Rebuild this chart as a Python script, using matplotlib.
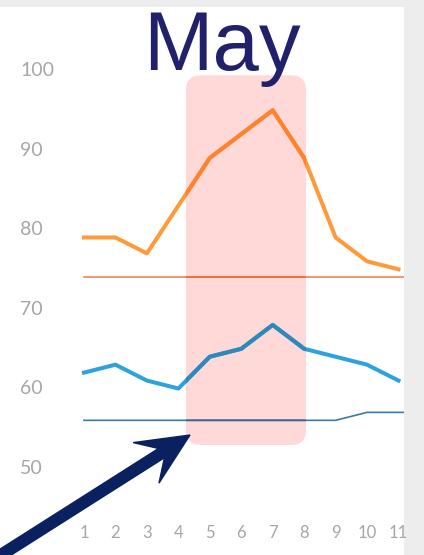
import matplotlib
matplotlib.use("Agg")
import matplotlib.pyplot as plt
from matplotlib.patches import FancyBboxPatch, FancyArrow
from matplotlib.colors import to_rgb

# ---- data ----
days = [1, 2, 3, 4, 5, 6, 7, 8, 9, 10, 11]
orange_vals = [79, 79, 77, 83, 89, 92, 95, 89, 79, 76, 75]
blue_vals = [62, 63, 61, 60, 64, 65, 68, 65, 64, 63, 61]
orange_base = [74, 74, 74, 74, 74, 74, 74, 74, 74, 74, 74]
blue_base = [56, 56, 56, 56, 56, 56, 56, 56, 56, 57, 57]
y_ticks = [100, 90, 80, 70, 60, 50]
x_tick_labels = ["1", "2", "3", "4", "5", "6", "7", "8", "9", "10", "11"]
highlight = (4.24, 8.06, 52.9, 99.4)   # x0, x1, y0, y1
title = "May"

W, H = 424, 555
fig = plt.figure(figsize=(W / 100, H / 100), dpi=100, facecolor="#ededed")

# main axes: white panel from px x 0..404, y 7..555
ax = fig.add_axes([0 / W, 0 / H, 404 / W, (H - 7) / H])
ax.set_facecolor("white")
XMIN, XMAX = -1.671, 11.175
ax.set_xlim(XMIN, XMAX)
ax.set_ylim(39.06, 107.99)
for s in ax.spines.values():
    s.set_visible(False)
ax.set_xticks([])
ax.set_yticks([])

pink = "#ffd8d8"
x0, x1, y0, y1 = highlight
rect = FancyBboxPatch((x0, y0), x1 - x0, y1 - y0,
                      boxstyle="round,pad=0,rounding_size=0.48",
                      mutation_aspect=3.96, facecolor=pink, edgecolor="none",
                      zorder=1)
ax.add_patch(rect)

def mult(c):
    a = to_rgb(c)
    b = to_rgb(pink)
    return tuple(p * q for p, q in zip(a, b))

series = [
    (days + [XMAX], orange_base + [orange_base[-1]], "#ee7a45", 1.1),
    (days + [XMAX], blue_base + [blue_base[-1]], "#3a7aa8", 1.2),
    (days, orange_vals, "#ff9a3a", 2.9),
    (days, blue_vals, "#2ea2dc", 2.9),
]
for xs, ys, col, lw in series:
    ax.plot(xs, ys, color=col, lw=lw, solid_joinstyle="round", zorder=2)
    ln, = ax.plot(xs, ys, color=mult(col), lw=lw, solid_joinstyle="round", zorder=3)
    ln.set_clip_path(rect)

tick_color = "#a6a6a6"
for v in y_ticks:
    ax.text(-1.03, v, str(v), ha="left", va="center", fontsize=14,
            family="Lato", color=tick_color)
for d, lab in zip(days, x_tick_labels):
    ax.text(d, 41.8, lab, ha="center", va="center", fontsize=12,
            family="Lato", color=tick_color)

# overlay in pixel coordinates for title and arrow
ov = fig.add_axes([0, 0, 1, 1], facecolor="none")
ov.set_xlim(0, W)
ov.set_ylim(H, 0)
ov.axis("off")

ov.text(222, 70, title, ha="center", va="baseline", fontsize=60,
        family="Liberation Sans", color="#21206a", zorder=10)

sx, sy = -10, 562
tx, ty = 190, 435
ov.add_patch(FancyArrow(sx, sy, tx - sx, ty - sy, width=11, head_width=48,
                        head_length=52, overhang=0.35,
                        length_includes_head=True, color="#0b215f",
                        zorder=10))

fig.savefig("out.png", dpi=100, facecolor=fig.get_facecolor())
